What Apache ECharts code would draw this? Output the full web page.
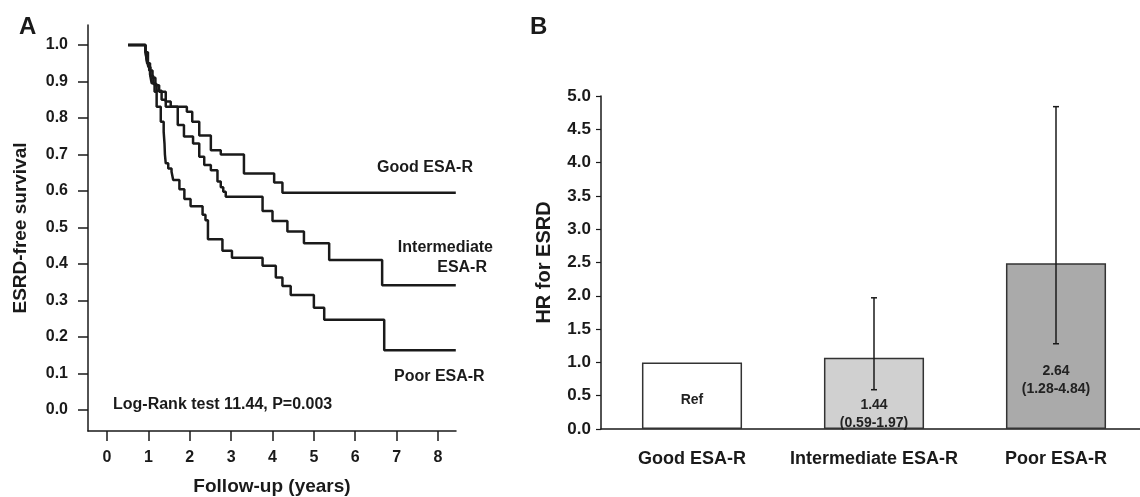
<!DOCTYPE html>
<html>
<head>
<meta charset="utf-8">
<script src="https://cdn.jsdelivr.net/npm/echarts@6/dist/echarts.min.js"></script>
<style>
  html, body { margin: 0; padding: 0; background: #fff; }
  #container { width: 1140px; height: 497px; }
</style>
</head>
<body>
<div id="container"></div>
<script>
// Panel A: Kaplan-Meier steps, [years, survival from that time on]
var goodCurve = [[0.51,1.0],[0.93,0.98],[0.97,0.95],[1.02,0.93],[1.10,0.91],[1.17,0.89],[1.26,0.872],[1.42,0.845],[1.54,0.831],[1.93,0.817],[2.06,0.79],[2.23,0.752],[2.51,0.712],[2.75,0.70],[3.31,0.648],[4.04,0.623],[4.24,0.595],[8.43,0.595]];
var interCurve = [[0.51,1.0],[0.93,0.985],[0.96,0.96],[1.00,0.94],[1.05,0.915],[1.12,0.893],[1.20,0.875],[1.32,0.85],[1.42,0.831],[1.71,0.781],[1.86,0.749],[2.08,0.73],[2.23,0.694],[2.35,0.671],[2.51,0.657],[2.67,0.626],[2.75,0.61],[2.81,0.598],[2.87,0.584],[3.76,0.545],[4.00,0.518],[4.36,0.489],[4.76,0.457],[5.37,0.411],[6.65,0.342],[8.43,0.342]];
var poorCurve = [[0.51,1.0],[0.93,0.98],[0.99,0.95],[1.04,0.92],[1.08,0.895],[1.15,0.872],[1.20,0.831],[1.30,0.79],[1.37,0.762],[1.39,0.73],[1.40,0.70],[1.42,0.676],[1.48,0.662],[1.56,0.653],[1.60,0.63],[1.75,0.605],[1.87,0.578],[2.02,0.558],[2.31,0.535],[2.38,0.52],[2.44,0.468],[2.79,0.436],[3.02,0.417],[3.76,0.395],[4.08,0.363],[4.24,0.34],[4.44,0.315],[5.00,0.28],[5.25,0.247],[6.70,0.164],[8.43,0.164]];
var yearTicks = [0, 1, 2, 3, 4, 5, 6, 7, 8];
var survivalTicks = [0, 0.1, 0.2, 0.3, 0.4, 0.5, 0.6, 0.7, 0.8, 0.9, 1.0];

// Panel B: hazard ratios
var groups = ['Good ESA-R', 'Intermediate ESA-R', 'Poor ESA-R'];
var barHeights = [1.0, 1.07, 2.49];
var ciLow = [null, 0.59, 1.28];
var ciHigh = [null, 1.97, 4.84];
var barTexts = ['Ref', '1.44\n(0.59-1.97)', '2.64\n(1.28-4.84)'];

var FONT = '"Liberation Sans", Arial, sans-serif';
var INK = '#1a1a1a';

var dom = document.getElementById('container');
var myChart = echarts.init(dom);

var barColors = ['#ffffff', '#d0d0d0', '#aaaaaa'];
var labelDist = [20, -3, 31];
var barData = barHeights.map(function (v, i) {
    return {
        value: v,
        itemStyle: { color: barColors[i] },
        label: { distance: labelDist[i] }
    };
});
var errData = [];
for (var i = 0; i < groups.length; i++) {
    if (ciLow[i] != null) errData.push([i, ciLow[i], ciHigh[i]]);
}

function kmSeries(data) {
    return {
        type: 'line',
        step: 'end',
        xAxisIndex: 0,
        yAxisIndex: 0,
        data: data,
        showSymbol: false,
        symbol: 'none',
        lineStyle: { color: INK, width: 2.5 },
        silent: true
    };
}

var option = {
    animation: false,
    backgroundColor: '#fff',
    textStyle: { fontFamily: FONT },
    grid: [
        { left: 88, top: 25, width: 368, bottom: 66, outerBoundsMode: 'none' },
        { left: 601, top: 96, width: 546, bottom: 68, outerBoundsMode: 'none' }
    ],
    xAxis: [
        {
            type: 'value', gridIndex: 0,
            min: -0.459, max: 8.435,
            name: 'Follow-up (years)', nameLocation: 'middle', nameGap: 46,
            nameTextStyle: { color: INK, fontSize: 19, fontWeight: 'bold', fontFamily: FONT },
            axisLine: { show: true, onZero: false, lineStyle: { color: INK, width: 1.5 } },
            axisTick: { show: true, length: 10, customValues: yearTicks, lineStyle: { color: INK, width: 1.5 } },
            axisLabel: { customValues: yearTicks, margin: 19, color: INK, fontSize: 16, fontWeight: 'bold', fontFamily: FONT },
            splitLine: { show: false }
        },
        {
            type: 'category', gridIndex: 1,
            data: groups,
            axisLine: { lineStyle: { color: INK, width: 1.5 } },
            axisTick: { length: 7, lineStyle: { color: INK, width: 1.2 } },
            axisLabel: { interval: 0, hideOverlap: false, margin: 21, color: INK, fontSize: 18, fontWeight: 'bold', fontFamily: FONT },
            splitLine: { show: false }
        }
    ],
    yAxis: [
        {
            type: 'value', gridIndex: 0,
            min: -0.0575, max: 1.0548,
            name: 'ESRD-free survival', nameLocation: 'middle', nameGap: 58,
            nameTextStyle: { color: INK, fontSize: 19, fontWeight: 'bold', fontFamily: FONT },
            axisLine: { show: true, onZero: false, lineStyle: { color: INK, width: 1.5 } },
            axisTick: { show: true, length: 10, customValues: survivalTicks, lineStyle: { color: INK, width: 1.5 } },
            axisLabel: {
                customValues: survivalTicks, margin: 20, color: INK, fontSize: 16, fontWeight: 'bold', fontFamily: FONT,
                formatter: function (v) { return v.toFixed(1); }
            },
            splitLine: { show: false }
        },
        {
            type: 'value', gridIndex: 1,
            min: 0, max: 5, interval: 0.5,
            name: 'HR for ESRD', nameLocation: 'middle', nameGap: 47,
            nameTextStyle: { color: INK, fontSize: 20, fontWeight: 'bold', fontFamily: FONT },
            axisLine: { show: true, lineStyle: { color: INK, width: 1.5 } },
            axisTick: { show: true, length: 5, lineStyle: { color: INK, width: 1.2 } },
            axisLabel: {
                margin: 10, color: INK, fontSize: 17, fontWeight: 'bold', fontFamily: FONT,
                formatter: function (v) { return v.toFixed(1); }
            },
            splitLine: { show: false }
        }
    ],
    series: [
        kmSeries(goodCurve),
        kmSeries(interCurve),
        kmSeries(poorCurve),
        {
            type: 'bar',
            xAxisIndex: 1, yAxisIndex: 1,
            barWidth: '55%',
            data: barData,
            itemStyle: { borderColor: '#333', borderWidth: 1.5 },
            label: {
                show: true,
                position: 'insideBottom',
                color: '#222',
                fontSize: 14,
                fontWeight: 'bold',
                fontFamily: FONT,
                lineHeight: 18,
                formatter: function (p) { return barTexts[p.dataIndex]; }
            },
            silent: true
        },
        {
            type: 'custom',
            xAxisIndex: 1, yAxisIndex: 1,
            data: errData,
            z: 10,
            silent: true,
            renderItem: function (params, api) {
                var x = api.value(0);
                var lo = api.coord([x, api.value(1)]);
                var hi = api.coord([x, api.value(2)]);
                var cap = 3;
                var style = { stroke: INK, lineWidth: 1.5 };
                return {
                    type: 'group',
                    children: [
                        { type: 'line', shape: { x1: lo[0], y1: lo[1], x2: hi[0], y2: hi[1] }, style: style },
                        { type: 'line', shape: { x1: lo[0] - cap, y1: lo[1], x2: lo[0] + cap, y2: lo[1] }, style: style },
                        { type: 'line', shape: { x1: hi[0] - cap, y1: hi[1], x2: hi[0] + cap, y2: hi[1] }, style: style }
                    ]
                };
            }
        }
    ],
    graphic: [
        { type: 'text', left: 19, top: 15, style: { text: 'A', font: 'bold 24px ' + FONT, fill: INK } },
        { type: 'text', left: 530, top: 15, style: { text: 'B', font: 'bold 24px ' + FONT, fill: INK } },
        { type: 'text', x: 377, y: 168, style: { text: 'Good ESA-R', font: 'bold 16px ' + FONT, fill: INK, textVerticalAlign: 'middle' } },
        { type: 'text', x: 493, y: 248, style: { text: 'Intermediate', font: 'bold 16px ' + FONT, fill: INK, textAlign: 'right', textVerticalAlign: 'middle' } },
        { type: 'text', x: 487, y: 268, style: { text: 'ESA-R', font: 'bold 16px ' + FONT, fill: INK, textAlign: 'right', textVerticalAlign: 'middle' } },
        { type: 'text', x: 394, y: 377, style: { text: 'Poor ESA-R', font: 'bold 16px ' + FONT, fill: INK, textVerticalAlign: 'middle' } },
        { type: 'text', x: 113, y: 405, style: { text: 'Log-Rank test 11.44, P=0.003', font: 'bold 16px ' + FONT, fill: INK, textVerticalAlign: 'middle' } }
    ]
};

myChart.setOption(option, true);
</script>
</body>
</html>
